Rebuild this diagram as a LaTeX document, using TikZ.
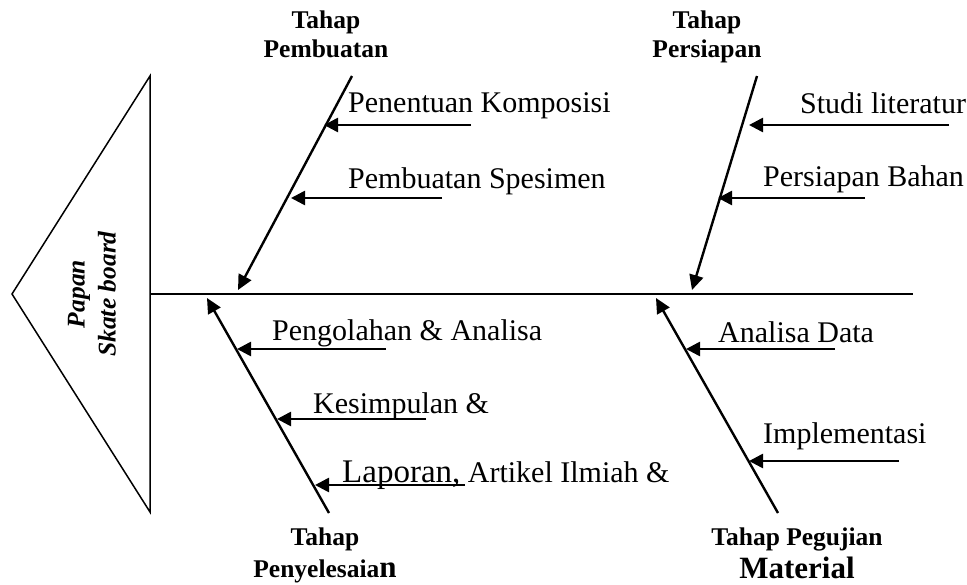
\documentclass[tikz,border=0pt]{standalone}
\usepackage{fontspec}
\setmainfont{Liberation Serif}
\usetikzlibrary{arrows.meta}

\newcommand{\teksbiasa}{\fontsize{30}{32}\selectfont}
\newcommand{\teksbesar}{\fontsize{33}{35}\selectfont}
\newcommand{\tekstahap}{\fontsize{25.5}{28}\selectfont\bfseries}

\tikzset{
  tulang/.style={line width=2.4pt, -{Triangle[length=15pt,width=14pt]}},
  sebab/.style={line width=2.6pt, -{Triangle[length=14pt,width=14pt]}},
  ket/.style={anchor=base west, inner sep=0pt, font=\teksbiasa},
  tahap/.style={anchor=base, inner sep=0pt, font=\tekstahap},
}

\begin{document}
\begin{tikzpicture}[x=1pt,y=-1pt]
  \useasboundingbox (0,0) rectangle (967,584);
  % kepala ikan
  \coordinate (kiri) at (12,294);
  \coordinate (atas) at (150,76);
  \coordinate (bawah) at (150,512);
  \draw[line width=1.5pt, line join=miter] (kiri) -- (atas) -- (bawah) -- cycle;
  \node[rotate=90, align=center, inner sep=0pt,
        font=\fontsize{25.5}{31}\selectfont\bfseries\itshape] (papan) at (92,294)
        {Papan\\Skate board};
  % tulang utama
  \coordinate (leher) at (150,294);
  \coordinate (ekor) at (913,294);
  \draw[line width=2pt] (leher) -- (ekor);

  % tulang cabang
  \coordinate (pb0) at (352,76);
  \coordinate (pb1) at (238,290);
  \coordinate (ps0) at (757,76);
  \coordinate (ps1) at (692,290);
  \coordinate (py0) at (329,513);
  \coordinate (py1) at (207,298);
  \coordinate (pm0) at (778,513);
  \coordinate (pm1) at (656,298);
  \draw[tulang] (pb0) -- (pb1);
  \draw[tulang] (ps0) -- (ps1);
  \draw[tulang] (py0) -- (py1);
  \draw[tulang] (pm0) -- (pm1);

  % judul tahap
  \node[tahap] (pb-a) at (326,28) {Tahap};
  \node[tahap] (pb-b) at (326,57) {Pembuatan};
  \node[tahap] (ps-a) at (707,28) {Tahap};
  \node[tahap] (ps-b) at (707,57) {Persiapan};
  \node[tahap] (py-a) at (325,545) {Tahap};
  \node[tahap] (py-b) at (325,577) {Penyelesaia{\fontsize{31}{33}\selectfont n}};
  \node[tahap] (pm-a) at (797,545) {Tahap Pegujian};
  \node[tahap, font=\fontsize{31}{33}\selectfont\bfseries] (pm-b) at (797,578) {Material};

  % tahap pembuatan
  \coordinate (a1) at (471,125);
  \coordinate (a1t) at (324,125);
  \coordinate (a2) at (442,198);
  \coordinate (a2t) at (291,198);
  \draw[sebab] (a1) -- (a1t);
  \draw[sebab] (a2) -- (a2t);
  \node[ket] (komposisi) at (348,112) {Penentuan Komposisi};
  \node[ket] (spesimen) at (348,188) {Pembuatan Spesimen};

  % tahap persiapan
  \coordinate (b1) at (949,125);
  \coordinate (b1t) at (749,125);
  \coordinate (b2) at (865,198);
  \coordinate (b2t) at (718,198);
  \draw[sebab] (b1) -- (b1t);
  \draw[sebab] (b2) -- (b2t);
  \node[ket] (studi) at (800,113) {Studi literatur};
  \node[ket] (bahan) at (763,186) {Persiapan Bahan};

  % tahap penyelesaian
  \coordinate (c1) at (386,349);
  \coordinate (c1t) at (237,349);
  \coordinate (c2) at (426,419);
  \coordinate (c2t) at (277,419);
  \coordinate (c3) at (465,485);
  \coordinate (c3t) at (315,485);
  \draw[sebab] (c1) -- (c1t);
  \draw[sebab] (c2) -- (c2t);
  \draw[sebab] (c3) -- (c3t);
  \node[ket] (olah) at (272,340) {Pengolahan \& Analisa};
  \node[ket] (simpul) at (313,413) {Kesimpulan \&};
  \node[ket] (lapor) at (342,482) {{\teksbesar Laporan,} Artikel Ilmiah \&};

  % tahap pengujian material
  \coordinate (d1) at (835,349);
  \coordinate (d1t) at (686,349);
  \coordinate (d2) at (899,461);
  \coordinate (d2t) at (749,461);
  \draw[sebab] (d1) -- (d1t);
  \draw[sebab] (d2) -- (d2t);
  \node[ket] (analisa) at (718,342) {Analisa Data};
  \node[ket] (implementasi) at (763,443) {Implementasi};
\end{tikzpicture}
\end{document}
